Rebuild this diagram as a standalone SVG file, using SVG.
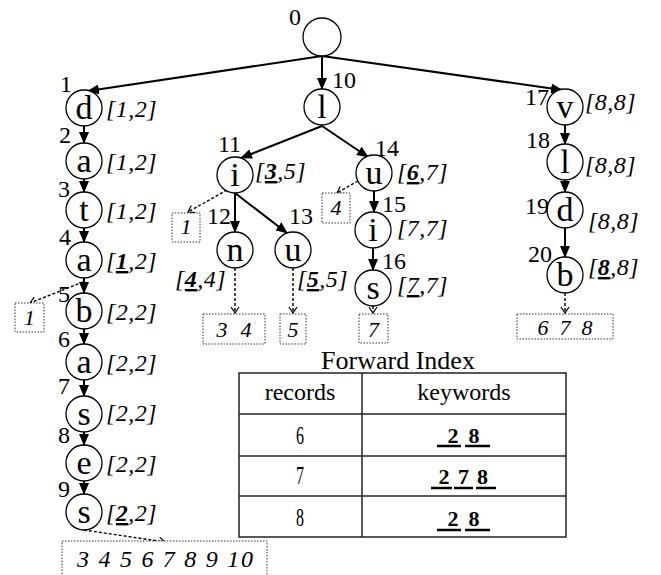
<svg xmlns="http://www.w3.org/2000/svg" width="661" height="575" viewBox="0 0 661 575">
<style>
text{font-family:"Liberation Serif","Times New Roman",serif;fill:#000}
.node circle{fill:#fff;stroke:#000;stroke-width:1.3}
.ch{font-size:34px;text-anchor:middle}
.num{font-size:24px}
.numr{font-size:24px;text-anchor:end}
.iv{font-size:24px;font-style:italic;letter-spacing:0.5px}
.ub{font-weight:bold;text-decoration:underline}
.u{text-decoration:underline}
.edge{stroke:#000;stroke-width:2;fill:none;marker-end:url(#ah)}
.dot{stroke:#000;stroke-width:1.4;stroke-dasharray:3 2;fill:none;marker-end:url(#ch)}
.box rect{fill:#fff;stroke:#333;stroke-width:1;stroke-dasharray:1.5 1.5}
.bt{font-size:22px;font-style:italic;text-anchor:middle}
.tbl{fill:none;stroke:#222;stroke-width:1.5}
.th{font-size:24px;text-anchor:middle}
.ttl{font-size:26px;text-anchor:middle}
.rn{font-size:25px;text-anchor:middle}
.kw{font-size:22px;font-weight:bold;text-anchor:middle}
.ul{stroke:#000;stroke-width:2.5}
</style>
<defs>
<marker id="ah" markerUnits="userSpaceOnUse" markerWidth="12" markerHeight="10" refX="11" refY="5" orient="auto"><path d="M0,0 L12,5 L0,10 z" fill="#000"/></marker>
<marker id="ch" markerUnits="userSpaceOnUse" markerWidth="8" markerHeight="10" refX="7" refY="5" orient="auto"><path d="M1,1 L7,5 L1,9" fill="none" stroke="#000" stroke-width="1.2"/></marker>
</defs>

<g id="connectors">
<line class="edge" x1="322" y1="56" x2="88" y2="91"/>
<line class="edge" x1="322" y1="56" x2="322" y2="89"/>
<line class="edge" x1="322" y1="56" x2="562" y2="90"/>
<line class="edge" x1="84" y1="126" x2="84" y2="143"/>
<line class="edge" x1="84" y1="179" x2="84" y2="192"/>
<line class="edge" x1="84" y1="228" x2="84" y2="242"/>
<line class="edge" x1="84" y1="278" x2="84" y2="293"/>
<line class="edge" x1="84" y1="329" x2="84" y2="344"/>
<line class="edge" x1="84" y1="380" x2="84" y2="396"/>
<line class="edge" x1="84" y1="432" x2="84" y2="445"/>
<line class="edge" x1="84" y1="481" x2="84" y2="494"/>
<line class="edge" x1="322" y1="126" x2="241" y2="158"/>
<line class="edge" x1="322" y1="126" x2="368" y2="157"/>
<line class="edge" x1="235" y1="193" x2="235" y2="232"/>
<line class="edge" x1="235" y1="193" x2="287" y2="233"/>
<line class="edge" x1="374" y1="191" x2="374" y2="212"/>
<line class="edge" x1="373" y1="248" x2="373" y2="270"/>
<line class="edge" x1="565" y1="125" x2="565" y2="144"/>
<line class="edge" x1="565" y1="180" x2="565" y2="192"/>
<line class="edge" x1="565" y1="228" x2="565" y2="257"/>
<line class="dot" x1="227" y1="190" x2="188" y2="212"/>
<line class="dot" x1="358" y1="181" x2="337" y2="193"/>
<line class="dot" x1="83" y1="282" x2="30" y2="303"/>
<line class="dot" x1="235" y1="268" x2="235" y2="313"/>
<line class="dot" x1="293" y1="268" x2="293" y2="313"/>
<line class="dot" x1="373" y1="306" x2="373" y2="313"/>
<line class="dot" x1="565" y1="293" x2="565" y2="313"/>
<line class="dot" x1="84" y1="530" x2="165" y2="542"/>
</g>

<g id="n0" class="node"><circle cx="322" cy="37" r="19"/><text class="numr" x="301" y="25">0</text></g>
<g id="n1" class="node"><circle cx="84" cy="108" r="18"/><text class="ch" x="84" y="119">d</text><text class="numr" x="72" y="92">1</text><text class="iv" x="106" y="117">[1,2]</text></g>
<g id="n2" class="node"><circle cx="84" cy="161" r="18"/><text class="ch" x="84" y="172">a</text><text class="numr" x="71" y="143">2</text><text class="iv" x="106" y="170">[1,2]</text></g>
<g id="n3" class="node"><circle cx="84" cy="210" r="18"/><text class="ch" x="84" y="221">t</text><text class="numr" x="70" y="197">3</text><text class="iv" x="106" y="219">[1,2]</text></g>
<g id="n4" class="node"><circle cx="84" cy="260" r="18"/><text class="ch" x="84" y="271">a</text><text class="numr" x="71" y="245">4</text><text class="iv" x="106" y="269">[<tspan class="ub">1</tspan>,2]</text></g>
<g id="n5" class="node"><circle cx="84" cy="311" r="18"/><text class="ch" x="84" y="322">b</text><text class="numr" x="70" y="302">5</text><text class="iv" x="106" y="320">[2,2]</text></g>
<g id="n6" class="node"><circle cx="84" cy="362" r="18"/><text class="ch" x="84" y="373">a</text><text class="numr" x="70" y="347">6</text><text class="iv" x="106" y="371">[2,2]</text></g>
<g id="n7" class="node"><circle cx="84" cy="414" r="18"/><text class="ch" x="84" y="425">s</text><text class="numr" x="70" y="394">7</text><text class="iv" x="106" y="421">[2,2]</text></g>
<g id="n8" class="node"><circle cx="84" cy="463" r="18"/><text class="ch" x="84" y="474">e</text><text class="numr" x="70" y="443">8</text><text class="iv" x="106" y="472">[2,2]</text></g>
<g id="n9" class="node"><circle cx="84" cy="512" r="18"/><text class="ch" x="84" y="523">s</text><text class="numr" x="70" y="497">9</text><text class="iv" x="106" y="521">[<tspan class="ub">2</tspan>,2]</text></g>

<g id="n10" class="node"><circle cx="322" cy="107" r="18"/><text class="ch" x="322" y="118">l</text><text class="num" x="332" y="88">10</text></g>
<g id="n11" class="node"><circle cx="235" cy="175" r="18"/><text class="ch" x="235" y="186">i</text><text class="numr" x="241" y="152">11</text><text class="iv" x="255" y="179">[<tspan class="ub">3</tspan>,5]</text></g>
<g id="n12" class="node"><circle cx="235" cy="250" r="18"/><text class="ch" x="235" y="261">n</text><text class="numr" x="231" y="224">12</text><text class="iv" x="175" y="287">[<tspan class="ub">4</tspan>,4]</text></g>
<g id="n13" class="node"><circle cx="293" cy="250" r="18"/><text class="ch" x="293" y="261">u</text><text class="num" x="289" y="224">13</text><text class="iv" x="297" y="287">[<tspan class="ub">5</tspan>,5]</text></g>
<g id="n14" class="node"><circle cx="374" cy="173" r="18"/><text class="ch" x="374" y="184">u</text><text class="num" x="375" y="156">14</text><text class="iv" x="397" y="180">[<tspan class="ub">6</tspan>,7]</text></g>
<g id="n15" class="node"><circle cx="373" cy="230" r="18"/><text class="ch" x="373" y="241">i</text><text class="num" x="382" y="212">15</text><text class="iv" x="397" y="236">[7,7]</text></g>
<g id="n16" class="node"><circle cx="373" cy="288" r="18"/><text class="ch" x="373" y="299">s</text><text class="num" x="382" y="269">16</text><text class="iv" x="397" y="293">[<tspan class="u">7</tspan>,7]</text></g>
<g id="n17" class="node"><circle cx="565" cy="107" r="18"/><text class="ch" x="565" y="118">v</text><text class="numr" x="549" y="105">17</text><text class="iv" x="585" y="110">[8,8]</text></g>
<g id="n18" class="node"><circle cx="565" cy="162" r="18"/><text class="ch" x="565" y="173">l</text><text class="numr" x="550" y="148">18</text><text class="iv" x="585" y="173">[8,8]</text></g>
<g id="n19" class="node"><circle cx="565" cy="210" r="18"/><text class="ch" x="565" y="221">d</text><text class="numr" x="549" y="214">19</text><text class="iv" x="588" y="229">[8,8]</text></g>
<g id="n20" class="node"><circle cx="565" cy="275" r="18"/><text class="ch" x="565" y="286">b</text><text class="numr" x="552" y="262">20</text><text class="iv" x="588" y="275">[<tspan class="ub">8</tspan>,8]</text></g>

<g id="box-i" class="box"><rect x="172" y="213" width="28" height="29"/><text class="bt" x="186" y="234">1</text></g>
<g id="box-u14" class="box"><rect x="322" y="193" width="28" height="30"/><text class="bt" x="336" y="215">4</text></g>
<g id="box-a4" class="box"><rect x="15" y="303" width="29" height="29"/><text class="bt" x="29.5" y="325">1</text></g>
<g id="box-n" class="box"><rect x="203" y="314" width="62" height="30"/><text class="bt" x="234" y="337" textLength="35" lengthAdjust="spacing">3 4</text></g>
<g id="box-u13" class="box"><rect x="280" y="314" width="26" height="30"/><text class="bt" x="293" y="337">5</text></g>
<g id="box-s16" class="box"><rect x="359" y="314" width="29" height="29"/><text class="bt" x="373.5" y="337">7</text></g>
<g id="box-b20" class="box"><rect x="517" y="314" width="96" height="25"/><text class="bt" x="565" y="335" textLength="55" lengthAdjust="spacing">6 7 8</text></g>
<g id="box-s9" class="box"><rect x="62" y="541" width="205" height="50"/><text class="bt" x="165" y="567" style="font-size:24px" textLength="176" lengthAdjust="spacing">3 4 5 6 7 8 9 10</text></g>

<g id="forward-index">
<text class="ttl" x="398" y="369">Forward Index</text>
<rect class="tbl" x="239" y="373" width="327" height="164"/>
<line class="tbl" x1="362" y1="373" x2="362" y2="537"/>
<line class="tbl" x1="239" y1="414" x2="566" y2="414"/>
<line class="tbl" x1="239" y1="456" x2="566" y2="456"/>
<line class="tbl" x1="239" y1="496" x2="566" y2="496"/>
<text class="th" x="300" y="400">records</text>
<text class="th" x="464" y="400">keywords</text>
<text class="rn" x="300" y="444" textLength="8" lengthAdjust="spacingAndGlyphs">6</text>
<text class="rn" x="300" y="484" textLength="8" lengthAdjust="spacingAndGlyphs">7</text>
<text class="rn" x="300" y="526" textLength="8" lengthAdjust="spacingAndGlyphs">8</text>
<text class="kw" x="453" y="443">2</text><text class="kw" x="474" y="443">8</text>
<line class="ul" x1="437" y1="446" x2="461" y2="446"/><line class="ul" x1="465" y1="446" x2="490" y2="446"/>
<text class="kw" x="444" y="484">2</text><text class="kw" x="463.5" y="484">7</text><text class="kw" x="482.5" y="484">8</text>
<line class="ul" x1="431" y1="488" x2="452" y2="488"/><line class="ul" x1="454" y1="488" x2="473" y2="488"/><line class="ul" x1="476" y1="488" x2="496" y2="488"/>
<text class="kw" x="453" y="526">2</text><text class="kw" x="474" y="526">8</text>
<line class="ul" x1="437" y1="530" x2="461" y2="530"/><line class="ul" x1="465" y1="530" x2="490" y2="530"/>
</g>
</svg>
